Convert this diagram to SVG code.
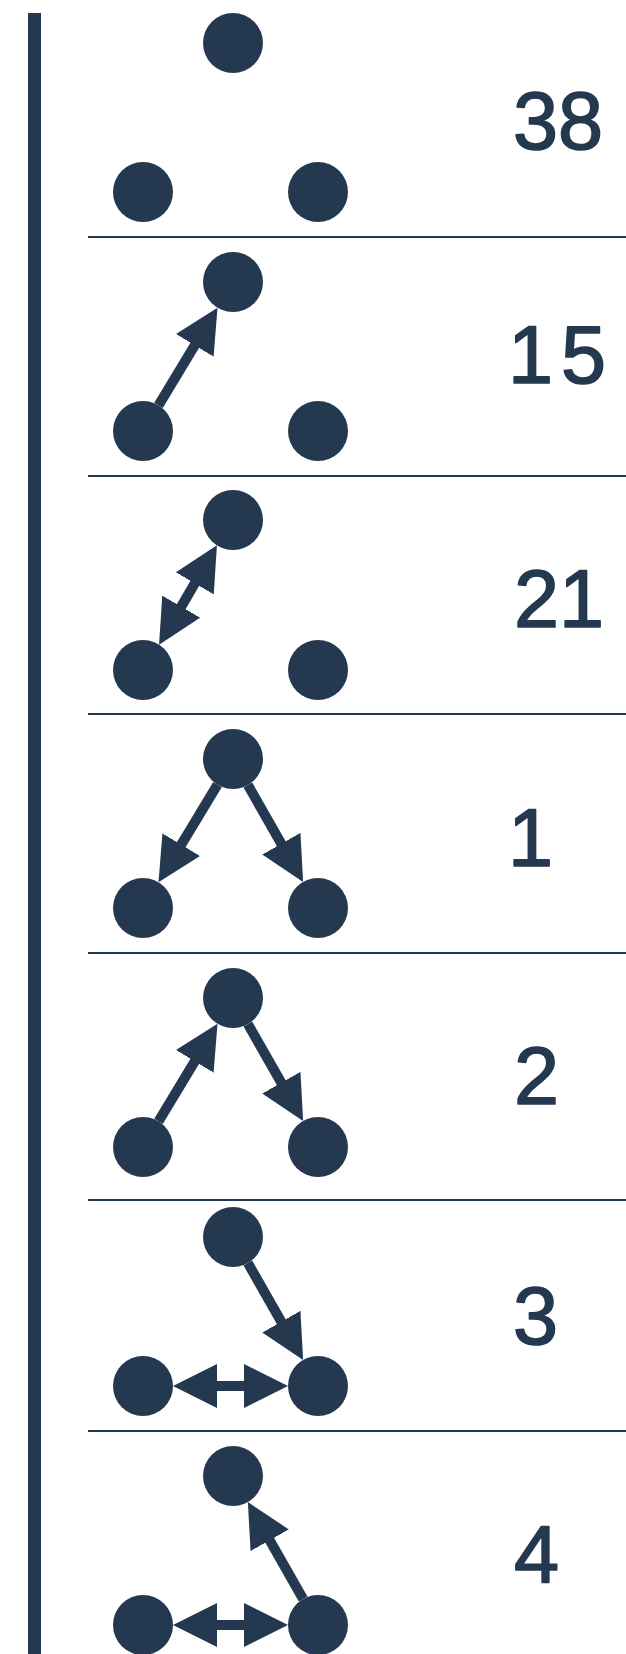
<svg xmlns="http://www.w3.org/2000/svg" width="626" height="1654" viewBox="0 0 626 1654">
<style>
.n{fill:#24384F}
.sep{stroke:#24384F;stroke-width:2}
.e{stroke:#24384F;stroke-width:10;fill:none;marker-end:url(#ah)}
.d{stroke:#24384F;stroke-width:10;fill:none;marker-end:url(#ah);marker-start:url(#ah)}
.lbl{font-family:"Liberation Sans",Arial,Helvetica,sans-serif;font-size:81px;fill:#24384F;stroke:#24384F;stroke-width:1.6;stroke-linejoin:round}
</style>
<defs>
<marker id="ah" markerUnits="userSpaceOnUse" viewBox="0 0 44 44" markerWidth="44" markerHeight="44" refX="2" refY="22" orient="auto-start-reverse">
<path d="M0,0 L44,22 L0,44 Z" fill="#24384F"/>
</marker>
</defs>
<rect width="626" height="1654" fill="#FFFFFF"/>
<rect id="axis" x="28" y="13" width="13" height="1641" fill="#24384F"/>
<g id="separators">
<line class="sep" x1="88" y1="237" x2="626" y2="237"/>
<line class="sep" x1="88" y1="476" x2="626" y2="476"/>
<line class="sep" x1="88" y1="714" x2="626" y2="714"/>
<line class="sep" x1="88" y1="953" x2="626" y2="953"/>
<line class="sep" x1="88" y1="1200" x2="626" y2="1200"/>
<line class="sep" x1="88" y1="1431" x2="626" y2="1431"/>
</g>
<g id="connectors">
<line class="e" x1="158.51" y1="405.32" x2="195.78" y2="343.63"/>
<line class="d" x1="180.22" y1="608.37" x2="195.78" y2="581.63"/>
<line class="e" x1="217.49" y1="784.68" x2="180.22" y2="846.37"/>
<line class="e" x1="247.87" y1="785.06" x2="282.32" y2="845.46"/>
<line class="e" x1="158.51" y1="1121.32" x2="195.78" y2="1059.63"/>
<line class="e" x1="247.87" y1="1024.06" x2="282.32" y2="1084.46"/>
<line class="e" x1="247.87" y1="1263.06" x2="282.32" y2="1323.46"/>
<line class="d" x1="215" y1="1386" x2="246" y2="1386"/>
<line class="e" x1="303.13" y1="1598.94" x2="268.68" y2="1538.54"/>
<line class="d" x1="215" y1="1625" x2="246" y2="1625"/>
</g>
<g id="r1t"><circle class="n" cx="233" cy="43" r="30"/></g>
<g id="r1l"><circle class="n" cx="143" cy="192" r="30"/></g>
<g id="r1r"><circle class="n" cx="318" cy="192" r="30"/></g>
<g id="r2t"><circle class="n" cx="233" cy="282" r="30"/></g>
<g id="r2l"><circle class="n" cx="143" cy="431" r="30"/></g>
<g id="r2r"><circle class="n" cx="318" cy="431" r="30"/></g>
<g id="r3t"><circle class="n" cx="233" cy="520" r="30"/></g>
<g id="r3l"><circle class="n" cx="143" cy="670" r="30"/></g>
<g id="r3r"><circle class="n" cx="318" cy="670" r="30"/></g>
<g id="r4t"><circle class="n" cx="233" cy="759" r="30"/></g>
<g id="r4l"><circle class="n" cx="143" cy="908" r="30"/></g>
<g id="r4r"><circle class="n" cx="318" cy="908" r="30"/></g>
<g id="r5t"><circle class="n" cx="233" cy="998" r="30"/></g>
<g id="r5l"><circle class="n" cx="143" cy="1147" r="30"/></g>
<g id="r5r"><circle class="n" cx="318" cy="1147" r="30"/></g>
<g id="r6t"><circle class="n" cx="233" cy="1237" r="30"/></g>
<g id="r6l"><circle class="n" cx="143" cy="1386" r="30"/></g>
<g id="r6r"><circle class="n" cx="318" cy="1386" r="30"/></g>
<g id="r7t"><circle class="n" cx="233" cy="1476" r="30"/></g>
<g id="r7l"><circle class="n" cx="143" cy="1625" r="30"/></g>
<g id="r7r"><circle class="n" cx="318" cy="1625" r="30"/></g>
<g id="labels">
<text class="lbl" x="513" y="149">38</text>
<text class="lbl" x="508" y="383">1<tspan dx="8">5</tspan></text>
<text class="lbl" x="514" y="627">21</text>
<text class="lbl" x="508" y="866">1</text>
<text class="lbl" x="514" y="1104">2</text>
<text class="lbl" x="513" y="1344">3</text>
<text class="lbl" x="514" y="1583">4</text>
</g>
</svg>
